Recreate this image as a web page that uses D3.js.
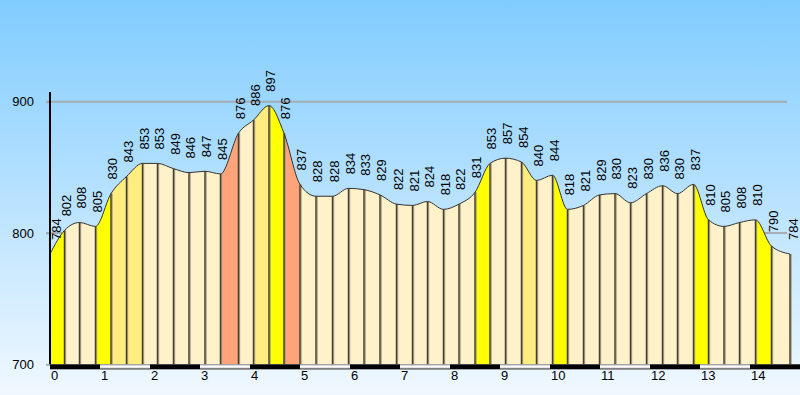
<!DOCTYPE html>
<html>
<head>
<meta charset="utf-8">
<script src="https://cdn.jsdelivr.net/npm/d3@7"></script>
<style>
  html, body { margin: 0; padding: 0; }
  svg { display: block; font-family: "Liberation Sans", Arial, sans-serif; }
</style>
</head>
<body>
<svg id="chart" width="800" height="395"></svg>
<script>
// profile points: distance (km) and elevation (m)
const distances = [0, 0.29, 0.59, 0.91, 1.22, 1.53, 1.85, 2.15, 2.47, 2.78, 3.10, 3.41, 3.77, 4.07, 4.38, 4.68,
  5.00, 5.32, 5.65, 5.97, 6.28, 6.60, 6.93, 7.25, 7.55, 7.87, 8.18, 8.50, 8.80, 9.11, 9.43, 9.73,
  10.05, 10.35, 10.67, 10.99, 11.30, 11.61, 11.93, 12.25, 12.55, 12.87, 13.17, 13.48, 13.79, 14.11, 14.43, 14.80]
const elevations = [784, 802, 808, 805, 830, 843, 853, 853, 849, 846, 847, 845, 876, 886, 897, 876,
  837, 828, 828, 834, 833, 829, 822, 821, 824, 818, 822, 831, 853, 857, 854, 840,
  844, 818, 821, 829, 830, 823, 830, 836, 830, 837, 810, 805, 808, 810, 790, 784]
// gradient class of each segment between two points
const grades = ["steep", "flat", "flat", "steep", "moderate", "moderate", "flat", "flat", "flat", "flat", "flat",
  "very steep", "flat", "moderate", "steep", "very steep",
  "flat", "flat", "flat", "flat", "flat", "flat", "flat", "flat", "flat", "flat", "flat",
  "steep", "flat", "flat", "moderate", "flat", "steep",
  "flat", "flat", "flat", "flat", "flat", "flat", "flat", "flat",
  "steep", "flat", "flat", "flat", "steep", "flat"]
const kmTicks = d3.range(0, 15)
const elevTicks = [700, 800, 900]

const width = 800
const height = 395

const x = d3.scaleLinear().domain([0, 15]).range([50, 800])
const y = d3.scaleLinear().domain([700, 900]).range([364.3, 101.7])
const color = d3.scaleOrdinal()
  .domain(["flat", "moderate", "steep", "very steep"])
  .range(["#fff2cb", "#ffed7f", "#ffff00", "#ffa37a"])

const points = distances.map((d, i) => ({ km: d, elev: elevations[i] }))

const svg = d3.select("#chart")

// background
const defs = svg.append("defs")
const grad = defs.append("linearGradient")
  .attr("id", "sky").attr("x1", 0).attr("y1", 0).attr("x2", 0).attr("y2", 1)
grad.append("stop").attr("offset", "0%").attr("stop-color", "#80ccff")
grad.append("stop").attr("offset", "100%").attr("stop-color", "#f0f8ff")
svg.append("rect").attr("width", width).attr("height", height).attr("fill", "url(#sky)")

// grid lines
svg.append("g")
  .selectAll("line")
  .data(elevTicks.filter(d => d > 700))
  .join("line")
  .attr("x1", 46).attr("x2", 787)
  .attr("y1", d => y(d)).attr("y2", d => y(d))
  .attr("stroke", "#a4acb4")
  .attr("stroke-width", 2)

// profile shape
const line = d3.line()
  .x(d => x(d.km))
  .y(d => y(d.elev))
  .curve(d3.curveMonotoneX)

const area = d3.area()
  .x(d => x(d.km))
  .y0(y(700))
  .y1(d => y(d.elev))
  .curve(d3.curveMonotoneX)

defs.append("clipPath").attr("id", "profile-clip")
  .append("path").attr("d", area(points))

const segments = points.slice(0, -1).map((p, i) => ({ a: p, b: points[i + 1], grade: grades[i] }))

svg.append("g")
  .attr("clip-path", "url(#profile-clip)")
  .selectAll("rect")
  .data(segments)
  .join("rect")
  .attr("x", d => x(d.a.km))
  .attr("width", d => x(d.b.km) - x(d.a.km))
  .attr("y", y(900))
  .attr("height", y(700) - y(900))
  .attr("fill", d => color(d.grade))

// vertical dividers
const gDiv = svg.append("g")
gDiv.selectAll("line.shade")
  .data(points.slice(1))
  .join("line")
  .attr("class", "shade")
  .attr("x1", d => x(d.km) + 1.2).attr("x2", d => x(d.km) + 1.2)
  .attr("y1", d => y(d.elev)).attr("y2", y(700))
  .attr("stroke", "#a09a7e")
  .attr("stroke-width", 1)
gDiv.selectAll("line.main")
  .data(points.slice(1))
  .join("line")
  .attr("class", "main")
  .attr("x1", d => x(d.km)).attr("x2", d => x(d.km))
  .attr("y1", d => y(d.elev)).attr("y2", y(700))
  .attr("stroke", "#454032")
  .attr("stroke-width", 1.5)

svg.append("path")
  .attr("d", line(points))
  .attr("fill", "none")
  .attr("stroke", "#333")
  .attr("stroke-width", 1)

// left axis
const yAxis = d3.axisLeft(y).tickValues(elevTicks).tickSize(4).tickPadding(12)
const gy = svg.append("g").attr("transform", "translate(50,0)").call(yAxis)
gy.select(".domain").remove()
gy.selectAll(".tick line").attr("stroke", "#a4acb4").attr("stroke-width", 2)
gy.selectAll(".tick text")
  .attr("fill", "#000")
  .style("font-size", "13px")
  .style("font-family", "'Liberation Sans', Arial, sans-serif")

svg.append("line")
  .attr("x1", 50).attr("x2", 50)
  .attr("y1", 92).attr("y2", y(700))
  .attr("stroke", "#000")
  .attr("stroke-width", 2)

// distance bar
const bar = svg.append("g")
const barSegs = kmTicks.map(k => ({ k, end: k === 14 ? 16 : k + 1 }))
bar.selectAll("rect.white")
  .data(barSegs.filter(d => d.k % 2 === 1))
  .join("rect")
  .attr("class", "white")
  .attr("x", d => x(d.k)).attr("width", d => x(d.end) - x(d.k))
  .attr("y", y(700)).attr("height", 5.5)
  .attr("fill", "#808080")
bar.selectAll("rect.whitetop")
  .data(barSegs.filter(d => d.k % 2 === 1))
  .join("rect")
  .attr("class", "whitetop")
  .attr("x", d => x(d.k)).attr("width", d => x(d.end) - x(d.k))
  .attr("y", y(700) + 1).attr("height", 2.5)
  .attr("fill", "#fff")
bar.selectAll("rect.black")
  .data(barSegs.filter(d => d.k % 2 === 0))
  .join("rect")
  .attr("class", "black")
  .attr("x", d => x(d.k)).attr("width", d => x(d.end) - x(d.k))
  .attr("y", y(700)).attr("height", 5)
  .attr("fill", "#000")

svg.append("g")
  .selectAll("text")
  .data(kmTicks)
  .join("text")
  .attr("x", d => x(d) + 1)
  .attr("y", 380)
  .attr("font-size", 13)
  .attr("fill", "#000")
  .text(d => d)

// elevation labels
svg.append("g")
  .selectAll("text")
  .data(points)
  .join("text")
  .attr("transform", (d, i) => {
    let px = x(d.km) + 1.5
    if (i === 0) px += 5
    if (i === points.length - 1) px += 2
    return `translate(${px},${y(d.elev) - 14}) rotate(-90)`
  })
  .attr("dominant-baseline", "central")
  .attr("font-size", 13)
  .attr("fill", "#000")
  .text(d => d.elev)
</script>
</body>
</html>
